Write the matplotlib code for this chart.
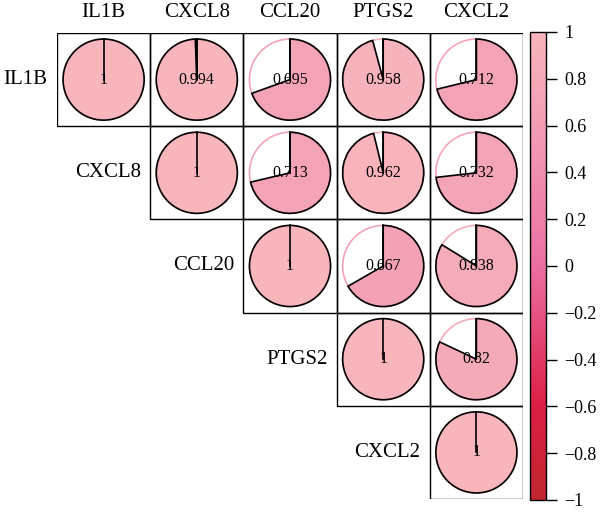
import numpy as np
import matplotlib
matplotlib.use("Agg")
import matplotlib.pyplot as plt
from matplotlib.patches import Wedge, Circle, Rectangle
from matplotlib.colors import LinearSegmentedColormap, Normalize
from matplotlib.cm import ScalarMappable
from matplotlib.ticker import FuncFormatter

plt.rcParams["font.family"] = ["Liberation Serif", "DejaVu Serif"]

genes = ["IL1B", "CXCL8", "CCL20", "PTGS2", "CXCL2"]
# upper triangle of the correlation matrix, row by row
corr = [
    [1, 0.994, 0.695, 0.958, 0.712],
    [None, 1, 0.713, 0.962, 0.732],
    [None, None, 1, 0.667, 0.838],
    [None, None, None, 1, 0.82],
    [None, None, None, None, 1],
]
cbar_ticks = [-1, -0.8, -0.6, -0.4, -0.2, 0, 0.2, 0.4, 0.6, 0.8, 1]

# pink/red palette, dark red at -1 to pale pink at 1
cmap = LinearSegmentedColormap.from_list(
    "pinks",
    [(0.0, "#C0262E"), (0.2, "#DC1E44"), (0.5, "#EC6FA2"),
     (0.75, "#F196B2"), (1.0, "#F8B5BC")])
norm = Normalize(-1, 1)

fig = plt.figure(figsize=(6, 5.14), dpi=100)
ax = fig.add_axes([57 / 600, 15 / 514, 466 / 600, 466 / 514])
ax.set_xlim(0, 5)
ax.set_ylim(5, 0)
ax.axis("off")

r = 0.435
n = len(genes)
for i in range(n):
    for j in range(i, n):
        v = corr[i][j]
        ax.add_patch(Rectangle((j, i), 1, 1, fill=False, ec="black", lw=1.0))
        cx, cy = j + 0.5, i + 0.5
        col = cmap(norm(v))
        # thin outline of the full circle in the pie colour
        ax.add_patch(Circle((cx, cy), r, fill=False, ec=col, lw=1.2))
        ang = 360 * abs(v)
        # y axis is inverted, so angles run the other way on screen
        ax.add_patch(Wedge((cx, cy), r, -90, -90 + ang, fc=col, ec="black", lw=1.2))
        ax.plot([cx, cx], [cy, cy - r], color="black", lw=1.2)
        ax.text(cx, cy, f"{v:g}", ha="center", va="center", fontsize=11.5)
    # labels
    ax.text(i + 0.5, -0.12, genes[i], ha="center", va="bottom", fontsize=15,
            clip_on=False)
    ax.text(i - 0.1, i + 0.5, genes[i], ha="right", va="center", fontsize=15,
            clip_on=False)

cax = fig.add_axes([530 / 600, 14 / 514, 16 / 600, 468 / 514])
sm = ScalarMappable(norm=norm, cmap=cmap)
cb = fig.colorbar(sm, cax=cax, ticks=cbar_ticks)
cb.outline.set_linewidth(1.0)
cax.tick_params(length=8, width=1, labelsize=13, pad=5)
cax.yaxis.set_major_formatter(FuncFormatter(lambda x, p: f"{x:g}".replace("-", "\u2212")))

fig.savefig("out.png", dpi=100)
